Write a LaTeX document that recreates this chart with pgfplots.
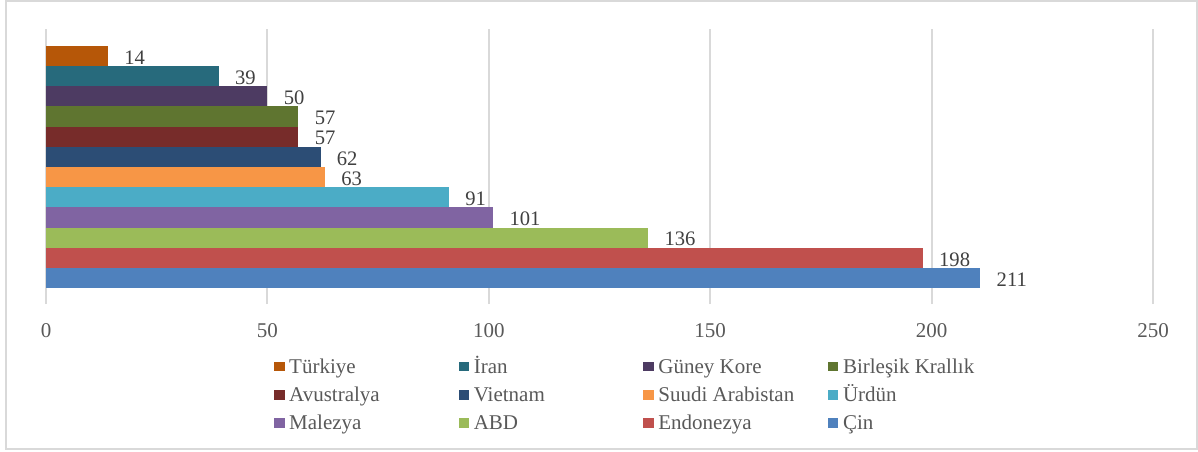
\documentclass[border=0pt]{standalone}
\usepackage{fontspec}
\setmainfont{Liberation Serif}
\usepackage{pgfplots}
\pgfplotsset{compat=1.18}
\definecolor{cTur}{HTML}{B65708}
\definecolor{cIra}{HTML}{276A7C}
\definecolor{cKor}{HTML}{4D3B62}
\definecolor{cBir}{HTML}{5F7530}
\definecolor{cAvu}{HTML}{772C2A}
\definecolor{cVie}{HTML}{2C4D75}
\definecolor{cSuu}{HTML}{F79646}
\definecolor{cUrd}{HTML}{4BACC6}
\definecolor{cMal}{HTML}{8064A2}
\definecolor{cABD}{HTML}{9BBB59}
\definecolor{cEnd}{HTML}{C0504D}
\definecolor{cCin}{HTML}{4F81BD}
\definecolor{gridc}{HTML}{D9D9D9}
\definecolor{tickc}{HTML}{595959}
\definecolor{valc}{HTML}{404040}
\newcommand{\lgt}[1]{\makebox[87pt][l]{\hspace{2.3pt}#1}}
\begin{document}
\begin{tikzpicture}
\path[use as bounding box] (-23pt,-73.5pt) rectangle (576pt,152pt);
\begin{axis}[
  at={(0,0)}, anchor=south west,
  scale only axis, width=553.5pt, height=137.5pt,
  xmin=0, xmax=250, ymin=-0.29, ymax=13.34,
  xbar, bar width=1, bar shift=0pt,
  axis y line*=left, axis x line*=bottom,
  x axis line style={draw=none},
  y axis line style={draw=gridc, line width=1pt},
  xtick={0,50,100,150,200,250}, ytick=\empty,
  major tick length=0pt,
  xmajorgrids, grid style={draw=gridc, line width=1pt},
  /pgf/number format/assume math mode=true,
  tick label style={font=\fontsize{10.5}{12}\selectfont, text=tickc},
  xticklabel style={inner sep=0pt, anchor=north, yshift=-9.5pt},
  nodes near coords,
  every node near coord/.append style={font=\fontsize{10.3}{12}\selectfont, text=valc, anchor=west, inner sep=0pt, xshift=8pt, yshift=-0.8pt},
  legend columns=4,
  legend image code/.code={\fill[#1] (0pt,0.85pt) rectangle (5.3pt,5.5pt);},
  legend style={draw=none, fill=none, inner sep=0pt, outer sep=0pt,
    at={(0,0)}, anchor=north west, xshift=114pt, yshift=-27.5pt,
    /tikz/column sep=0pt, /tikz/row sep=4.6pt,
    nodes={inner sep=0pt, text height=7pt, text depth=2.5pt, anchor=base west,
      font=\fontsize{10.5}{12}\selectfont, text=tickc}},
]
\addplot[fill=cTur, draw=none] coordinates {(14,12)};
\addlegendentry{\lgt{Türkiye}}
\addplot[fill=cIra, draw=none] coordinates {(39,11)};
\addlegendentry{\lgt{İran}}
\addplot[fill=cKor, draw=none] coordinates {(50,10)};
\addlegendentry{\lgt{Güney Kore}}
\addplot[fill=cBir, draw=none] coordinates {(57,9)};
\addlegendentry{\lgt{Birleşik Krallık}}
\addplot[fill=cAvu, draw=none] coordinates {(57,8)};
\addlegendentry{\lgt{Avustralya}}
\addplot[fill=cVie, draw=none] coordinates {(62,7)};
\addlegendentry{\lgt{Vietnam}}
\addplot[fill=cSuu, draw=none] coordinates {(63,6)};
\addlegendentry{\lgt{Suudi Arabistan}}
\addplot[fill=cUrd, draw=none] coordinates {(91,5)};
\addlegendentry{\lgt{Ürdün}}
\addplot[fill=cMal, draw=none] coordinates {(101,4)};
\addlegendentry{\lgt{Malezya}}
\addplot[fill=cABD, draw=none] coordinates {(136,3)};
\addlegendentry{\lgt{ABD}}
\addplot[fill=cEnd, draw=none] coordinates {(198,2)};
\addlegendentry{\lgt{Endonezya}}
\addplot[fill=cCin, draw=none] coordinates {(211,1)};
\addlegendentry{\lgt{Çin}}
\end{axis}
\draw[gridc, line width=1pt] (-20pt,-72.5pt) rectangle (575.5pt,151.5pt);
\end{tikzpicture}
\end{document}
